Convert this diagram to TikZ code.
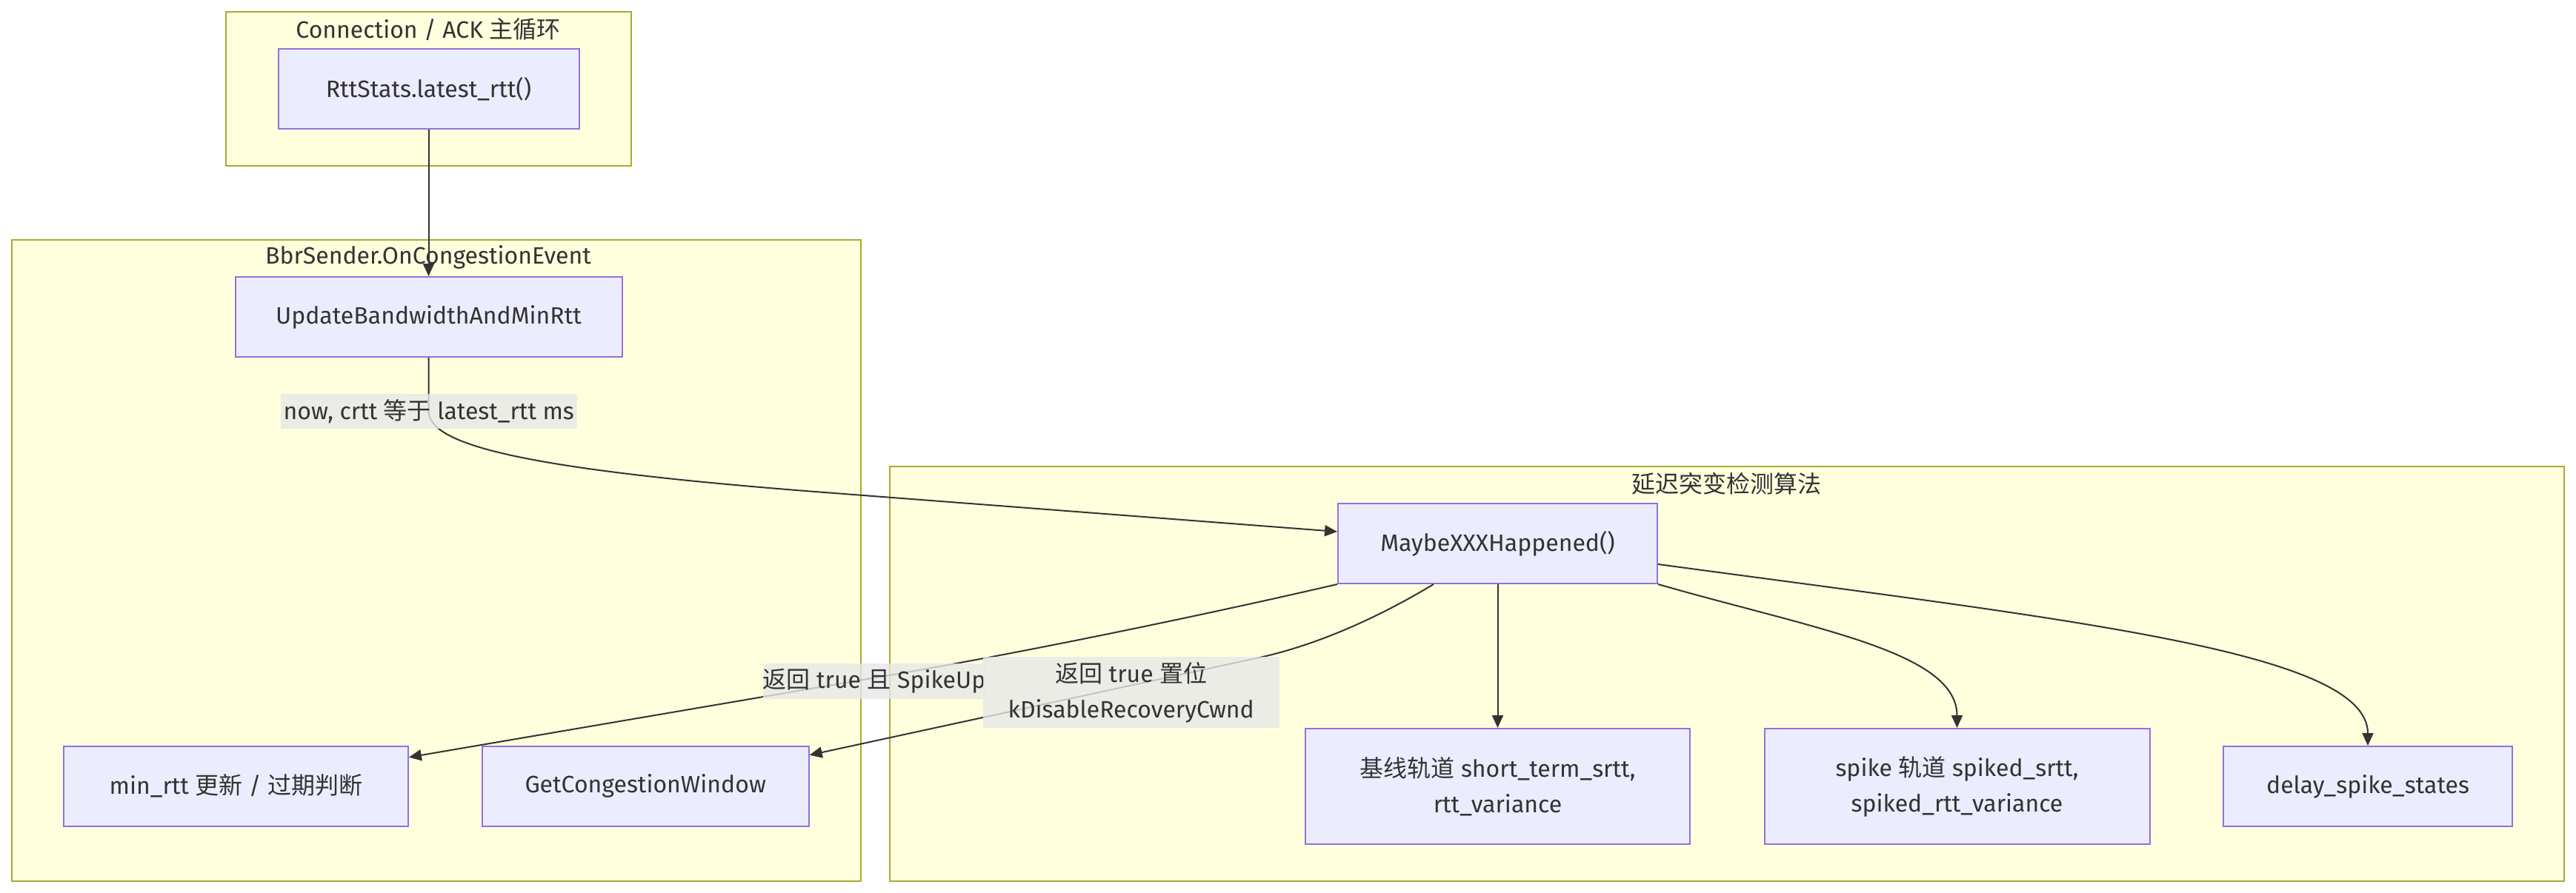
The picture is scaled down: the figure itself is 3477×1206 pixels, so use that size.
\documentclass[tikz,border=0pt]{standalone}
\usepackage{fontspec}
\setmainfont{Fira Sans}
\newfontfamily\zhfont{Noto Sans CJK SC}
\newcommand{\zh}[1]{{\zhfont #1}}
\usetikzlibrary{arrows.meta}
\definecolor{clusterfill}{HTML}{FFFFDE}
\definecolor{clusterline}{HTML}{AAAA33}
\definecolor{nodefill}{HTML}{ECECFF}
\definecolor{nodeline}{HTML}{9370DB}
\definecolor{txt}{HTML}{333333}
\definecolor{lblfill}{HTML}{E8E8E8}
\begin{document}
\begin{tikzpicture}[x=1pt,y=-1pt,
  every node/.style={font=\fontsize{32}{48}\selectfont, text=txt},
  cluster/.style={draw=clusterline, fill=clusterfill, line width=2pt},
  box/.style={draw=nodeline, fill=nodefill, line width=2pt, inner sep=0pt, align=center},
  lbl/.style={fill=lblfill, fill opacity=0.8, text opacity=1, inner sep=0pt, align=center},
  edge/.style={draw=txt, line width=2pt, -{Triangle[length=17pt,width=15pt]}},
]
\fill[white] (0,0) rectangle (3477,1206);
\useasboundingbox (0,0) rectangle (3477,1206);

% clusters
\draw[cluster] (305,16) rectangle (852,224);
\node (tconn) at (578,39.5) {Connection / ACK \zh{主循环}};
\draw[cluster] (16,324) rectangle (1162,1190);
\node (tbbr) at (578,347) {BbrSender.OnCongestionEvent};
\draw[cluster] (1201,630) rectangle (3461,1190);
\node (tdelay) at (2330,653) {\zh{延迟突变检测算法}};

% nodes
\node[box, minimum width=406pt, minimum height=108pt] (rtt) at (578.5,120) {RttStats.latest\_rtt()};
\node[box, minimum width=522pt, minimum height=108pt] (upd) at (578.5,428) {UpdateBandwidthAndMinRtt};
\node[box, minimum width=465pt, minimum height=108pt] (minrtt) at (318.4,1061.7) {min\_rtt \zh{更新} / \zh{过期判断}};
\node[box, minimum width=441pt, minimum height=108pt] (gcw) at (871.2,1061.7) {GetCongestionWindow};
\node[box, minimum width=431pt, minimum height=108pt] (maybe) at (2021.5,734) {MaybeXXXHappened()};
\node[box, minimum width=519pt, minimum height=156pt] (base) at (2021.5,1062) {\zh{基线轨道} short\_term\_srtt,\\rtt\_variance};
\node[box, minimum width=520pt, minimum height=156pt] (spike) at (2641.5,1062) {spike \zh{轨道} spiked\_srtt,\\spiked\_rtt\_variance};
\node[box, minimum width=390pt, minimum height=108pt] (delay) at (3196,1062) {delay\_spike\_states};

% edges
\draw[edge] (rtt.south) -- (upd.north);
\draw[edge] (upd.south) -- (578.5,555) .. controls (578.5,600) and (700,633) .. (1100,664) -- ([yshift=16pt]maybe.west);
\draw[edge] (maybe.south west) .. controls (1650,825) and (1400,878) .. (1200,912) -- ([yshift=39pt]minrtt.east);
\draw[edge] ([xshift=-86.5pt]maybe.south) .. controls (1890,816) and (1800,866) .. (1700,888) -- ([yshift=42pt]gcw.east);
\draw[edge] (maybe.south) -- (base.north);
\draw[edge] (maybe.south east) .. controls (2450,850) and (2641.5,880) .. (spike.north);
\draw[edge] ([yshift=-28pt]maybe.east) .. controls (2800,838) and (3196,880) .. (delay.north);

% edge labels
\node[lbl, minimum width=400pt, minimum height=47.5pt] (l0) at (578.8,555.6) {now, crtt \zh{等于} latest\_rtt ms};
\node[lbl, minimum width=296pt, minimum height=48pt] (l1) at (1180,920) {\zh{返回} true \zh{且} SpikeUp};
\node[lbl, minimum width=400pt, minimum height=95.4pt] (l2) at (1526.7,935) {\zh{返回} true \zh{置位}\\kDisableRecoveryCwnd};
\end{tikzpicture}
\end{document}
